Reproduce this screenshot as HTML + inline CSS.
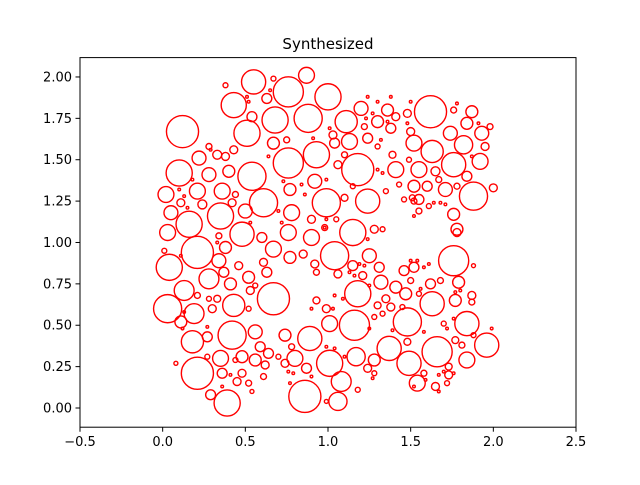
<!DOCTYPE html>
<html><head><meta charset="utf-8"><style>
body{margin:0;background:#fff}
svg text{font-family:"DejaVu Sans","Liberation Sans",sans-serif;fill:#000}
</style></head><body>
<svg id="chart" width="640" height="480" viewBox="0 0 640 480" xmlns="http://www.w3.org/2000/svg">
<rect width="640" height="480" fill="#fff"/>
<text x="328" y="49" font-size="15" text-anchor="middle">Synthesized</text>
<g id="circles"></g>
<g id="axes"></g>
</svg>
<script>
const xTicks=[-0.5,0,0.5,1,1.5,2,2.5];
const xTickLabels=["−0.5","0.0","0.5","1.0","1.5","2.0","2.5"];
const yTicks=[0,0.25,0.5,0.75,1,1.25,1.5,1.75,2];
const yTickLabels=["0.00","0.25","0.50","0.75","1.00","1.25","1.50","1.75","2.00"];
const xs=[.12,.55,.76,1.00,.43,.51,.68,.88,.54,.63,.87,.67,.38,.76,.93,.67,.75,.54,.40,.28,.22,.33,.38,.43,.28,.10,.02,.21,.36,.61,.77,.92,.99,.05,.16,.35,.50,.78,.24,.11,.42,.44,.90,.03,.48,.76,.60,.90,.34,
1.62,1.20,1.11,1.30,1.36,1.41,1.38,1.48,1.50,1.87,1.84,1.93,1.74,1.82,1.95,1.63,1.52,1.76,1.98,1.92,1.76,1.18,1.13,1.04,1.03,1.24,1.30,1.22,1.41,1.55,1.49,1.39,1.65,1.67,1.84,1.06,1.10,1.52,1.60,1.71,1.78,1.88,2.00,1.43,1.35,1.24,1.10,1.51,1.55,1.52,1.46,1.61,1.55,1.76,1.78,1.15,1.28,1.33,.98,1.05,1.15,
.21,.04,.34,.38,.67,.77,.85,.92,.93,.01,.46,.61,.63,.28,.37,.41,.52,.53,.56,.13,.21,.67,.03,.19,.43,.11,.30,.33,.28,.52,.93,.99,.18,.27,.42,.56,.74,.89,.59,.64,.70,.78,.80,.87,.74,1.01,.35,.48,.56,.44,.27,.62,.21,.36,.48,.45,.52,.61,.86,.29,.39,.54,.99,.08,
1.04,1.25,1.15,1.06,1.21,1.31,1.32,1.18,1.76,1.88,1.46,1.52,1.50,1.41,1.47,1.63,1.62,1.68,1.79,1.77,1.87,1.87,1.55,1.01,1.16,1.30,1.35,1.38,1.33,1.28,1.45,1.48,1.84,1.70,1.48,1.96,1.88,1.77,1.81,1.66,1.37,1.49,1.84,1.17,1.28,1.24,1.28,1.08,1.06,1.18,1.54,1.58,1.65,1.73,1.73,1.72,1.78,
.64,.73,.84,.86,.18,.10,.13,.15,.70,.72,.53,.98,.91,1.01,.29,.51,.52,.65,
1.23,1.27,1.24,1.30,1.38,1.50,1.48,1.36,1.32,1.91,1.87,1.78,1.30,1.33,.99,.99,1.64,1.68,1.71,1.52,
.12,.27,.76,.79,.90,.36,.77,.41,.13,.90,.33,.11,
1.24,1.19,1.22,1.13,1.16,1.25,1.54,1.50,1.58,1.61,1.77,1.80,1.56,1.04,1.09,1.03,1.72,1.39,1.76,1.99,1.58,1.25,.99,1.04,1.10,1.27,1.59,1.67,1.70,1.76,1.67,1.52];
const ys=[1.67,1.97,1.91,1.88,1.83,1.66,1.74,1.75,1.76,1.87,2.01,1.99,1.95,1.48,1.53,1.60,1.62,1.40,1.43,1.41,1.51,1.53,1.52,1.56,1.58,1.42,1.29,1.31,1.31,1.24,1.32,1.37,1.24,1.18,1.11,1.16,1.19,1.18,1.23,1.24,1.24,1.29,1.14,1.06,1.05,1.06,1.03,1.03,1.04,
1.79,1.81,1.73,1.73,1.80,1.76,1.69,1.78,1.67,1.79,1.72,1.66,1.66,1.59,1.58,1.55,1.60,1.80,1.70,1.49,1.47,1.44,1.61,1.60,1.65,1.63,1.58,1.70,1.44,1.44,1.50,1.53,1.43,1.38,1.40,1.47,1.53,1.34,1.34,1.32,1.34,1.28,1.33,1.35,1.31,1.25,1.27,1.27,1.26,1.25,1.26,1.22,1.19,1.17,1.08,1.06,1.08,1.08,1.09,1.14,1.34,
.94,.85,.89,.97,.96,.91,.93,.87,.82,.95,.86,.88,.82,.78,.82,.75,.79,.71,.74,.71,.68,.66,.60,.57,.62,.52,.60,.66,.66,.60,.65,.60,.40,.43,.44,.46,.44,.42,.37,.33,.31,.37,.30,.24,.27,.27,.30,.31,.29,.29,.31,.26,.21,.21,.21,.16,.15,.19,.07,.08,.03,.10,.04,.27,
.92,.92,.86,.81,.80,.85,.76,.69,.89,.86,.83,.85,.77,.73,.69,.63,.75,.77,.76,.65,.68,.64,.69,.51,.50,.62,.66,.61,.57,.55,.61,.52,.51,.51,.40,.38,.44,.41,.38,.34,.36,.27,.29,.31,.29,.24,.21,.16,.04,.11,.15,.21,.13,.20,.25,.15,1.06,
1.52,1.37,1.35,1.29,1.38,1.32,1.28,1.21,1.19,1.12,1.12,1.09,1.63,1.69,1.56,1.88,1.85,1.92,
1.75,1.78,1.88,1.85,1.88,1.85,1.72,1.73,1.62,1.72,1.52,1.84,1.44,1.42,1.14,1.38,1.24,1.24,1.23,1.16,
.48,.49,.22,.21,.19,.13,.15,.20,.58,.60,1.00,.92,
1.02,.87,.86,.82,.80,.74,.89,.89,.85,.87,.70,.71,.72,.68,.66,.60,.48,.47,.54,.48,.46,.48,.37,.36,.31,.18,.17,.10,.22,.21,.20,.13];
const rs=[.097,.073,.091,.079,.076,.079,.079,.085,.03,.03,.048,.015,.015,.091,.079,.036,.018,.085,.036,.042,.042,.027,.024,.024,.018,.079,.048,.048,.048,.085,.036,.042,.085,.042,.079,.079,.042,.048,.027,.024,.024,.018,.024,.048,.073,.048,.03,.048,.018,
.097,.042,.067,.036,.036,.024,.03,.024,.024,.036,.036,.042,.042,.055,.024,.067,.048,.018,.018,.048,.073,.097,.048,.03,.024,.03,.015,.018,.048,.048,.015,.021,.027,.018,.03,.024,.018,.036,.03,.042,.018,.085,.024,.015,.015,.073,.021,.018,.03,.018,.015,.015,.018,.036,.036,.079,.024,.015,.018,.015,.015,
.097,.079,.042,.036,.048,.036,.024,.024,.018,.015,.024,.024,.03,.06,.03,.036,.036,.024,.015,.06,.018,.097,.085,.06,.067,.036,.024,.021,.015,.015,.021,.024,.067,.03,.085,.042,.036,.073,.03,.03,.015,.018,.048,.03,.024,.079,.048,.036,.036,.015,.015,.024,.097,.03,.024,.024,.018,.018,.097,.03,.079,.012,.012,.012,
.085,.042,.03,.024,.024,.03,.042,.079,.091,.012,.03,.03,.018,.036,.036,.073,.03,.018,.036,.036,.024,.018,.015,.048,.091,.021,.024,.024,.015,.015,.015,.085,.073,.015,.021,.073,.015,.021,.018,.091,.073,.073,.048,.055,.036,.024,.015,.06,.055,.015,.048,.018,.024,.024,.021,.015,.024,
.008,.008,.008,.008,.008,.008,.008,.008,.008,.008,.008,.008,.008,.008,.008,.008,.008,.008,
.008,.008,.008,.008,.008,.008,.008,.008,.008,.008,.008,.008,.008,.008,.008,.008,.008,.008,.008,.008,
.008,.008,.008,.008,.008,.008,.008,.008,.008,.008,.008,.008,
.008,.008,.008,.008,.008,.008,.008,.008,.008,.008,.008,.008,.008,.008,.008,.008,.008,.008,.008,.008,.008,.008,.008,.008,.008,.008,.008,.008,.008,.008,.008,.008];

const L=80,R=576,T=57.6,B=427.2,X0=-0.5,X1=2.5,Y0=-0.116,Y1=2.117;
function sx(v){return L+(v-X0)/(X1-X0)*(R-L);}
function sy(v){return B-(v-Y0)/(Y1-Y0)*(B-T);}
function sr(v){return v*((R-L)/(X1-X0)+(B-T)/(Y1-Y0))/2;}
const NS="http://www.w3.org/2000/svg";
const cg=document.getElementById('circles');
const n=Math.min(xs.length,ys.length,rs.length);
for(let i=0;i<n;i++){
  const c=document.createElementNS(NS,'circle');
  c.setAttribute('cx',sx(xs[i]).toFixed(2));
  c.setAttribute('cy',sy(ys[i]).toFixed(2));
  c.setAttribute('r',Math.max(0.8,sr(rs[i])).toFixed(2));
  c.setAttribute('fill','none');
  c.setAttribute('stroke','#ff0000');
  c.setAttribute('stroke-width','1.4');
  
  
  cg.appendChild(c);
}
const ag=document.getElementById('axes');
const frame=document.createElementNS(NS,'rect');
frame.setAttribute('x',L);frame.setAttribute('y',T);
frame.setAttribute('width',R-L);frame.setAttribute('height',B-T);
frame.setAttribute('fill','none');frame.setAttribute('stroke','#000');frame.setAttribute('stroke-width','1');


ag.appendChild(frame);
xTicks.forEach((v,i)=>{
  const x=sx(v);
  const t=document.createElementNS(NS,'line');
  t.setAttribute('x1',x);t.setAttribute('x2',x);t.setAttribute('y1',B);t.setAttribute('y2',B+4.5);
  t.setAttribute('stroke','#000');
  
  
  ag.appendChild(t);
  const tx=document.createElementNS(NS,'text');
  tx.setAttribute('x',x);tx.setAttribute('y',B+19);tx.setAttribute('font-size','13');tx.setAttribute('text-anchor','middle');
  tx.textContent=xTickLabels[i];
  
  
  ag.appendChild(tx);
});
yTicks.forEach((v,i)=>{
  const y=sy(v);
  const t=document.createElementNS(NS,'line');
  t.setAttribute('x1',L-4.5);t.setAttribute('x2',L);t.setAttribute('y1',y);t.setAttribute('y2',y);
  t.setAttribute('stroke','#000');
  
  
  ag.appendChild(t);
  const tx=document.createElementNS(NS,'text');
  tx.setAttribute('x',L-8);tx.setAttribute('y',y+4.5);tx.setAttribute('font-size','13');tx.setAttribute('text-anchor','end');
  tx.textContent=yTickLabels[i];
  
  
  ag.appendChild(tx);
});
</script>
</body></html>
